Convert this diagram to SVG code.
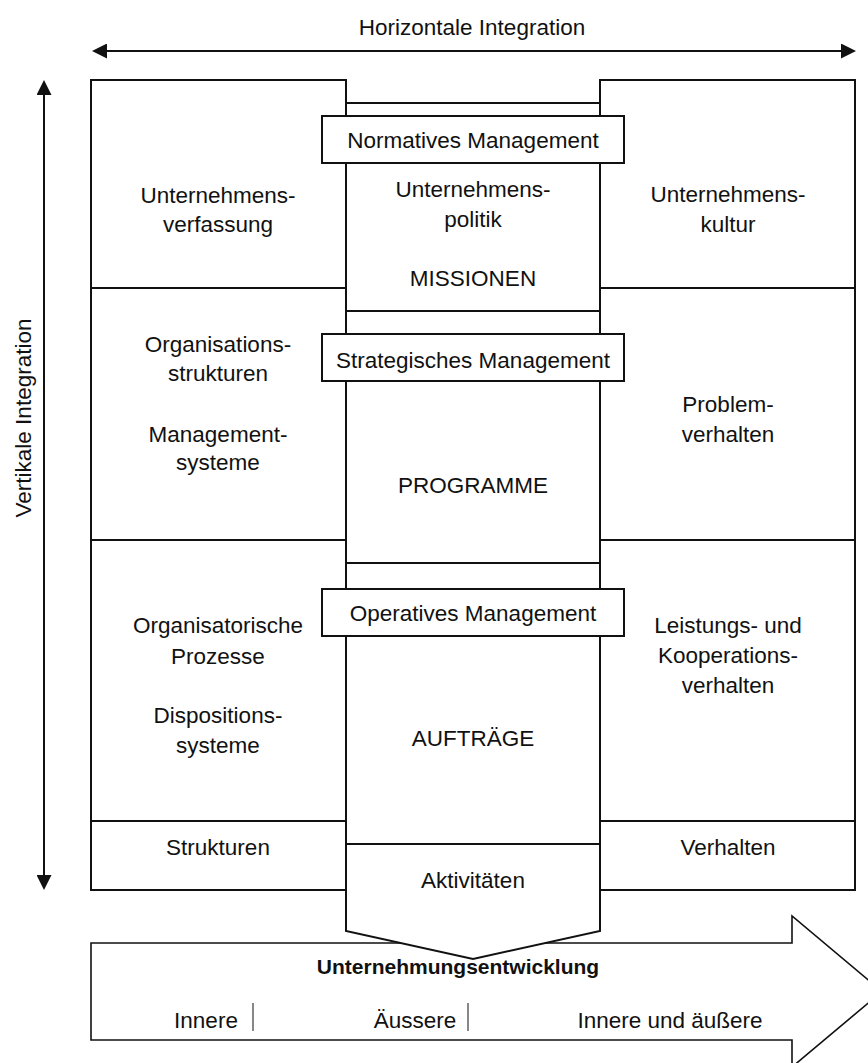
<svg xmlns="http://www.w3.org/2000/svg" width="868" height="1063" viewBox="0 0 868 1063">
<style>
  .box{fill:#fff;stroke:#111;stroke-width:2}
  .ln{fill:none;stroke:#111;stroke-width:2}
  .thin{fill:none;stroke:#111;stroke-width:1}
  text{font-family:"Liberation Sans",Arial,sans-serif;font-size:22.5px;fill:#111;text-anchor:middle}
  .bold{font-weight:bold;font-size:21px}
</style>
<defs>
  <marker id="ah" viewBox="0 0 15 15" refX="5" refY="7.5" markerWidth="15" markerHeight="15" markerUnits="userSpaceOnUse" orient="auto-start-reverse">
    <path d="M0,0 L15,7.5 L0,15 z" fill="#111"/>
  </marker>
</defs>
<rect width="868" height="1063" fill="#fff"/>

<g id="connectors">
  <line class="ln" x1="102" y1="51" x2="846" y2="51" marker-start="url(#ah)" marker-end="url(#ah)"/>
  <line class="ln" x1="44" y1="90" x2="44" y2="880" marker-start="url(#ah)" marker-end="url(#ah)"/>
</g>
<text x="472" y="35">Horizontale Integration</text>
<text transform="translate(31,418) rotate(-90)">Vertikale Integration</text>

<g id="entwicklung">
  <path class="ln" style="stroke-width:1.6" d="M91,943 L792,943 L792,916 L882,991.5 L792,1067 L792,1040 L91,1040 Z"/>
</g>

<g id="left-column">
  <rect class="box" x="91" y="80" width="255" height="810"/>
  <line class="ln" x1="91" y1="288" x2="346" y2="288"/>
  <line class="ln" x1="91" y1="540" x2="346" y2="540"/>
  <line class="ln" x1="91" y1="821" x2="346" y2="821"/>
  <text x="218" y="203">Unternehmens-</text>
  <text x="218" y="232">verfassung</text>
  <text x="218" y="352">Organisations-</text>
  <text x="218" y="381">strukturen</text>
  <text x="218" y="442">Management-</text>
  <text x="218" y="470">systeme</text>
  <text x="218" y="633">Organisatorische</text>
  <text x="218" y="664">Prozesse</text>
  <text x="218" y="723">Dispositions-</text>
  <text x="218" y="753">systeme</text>
  <text x="218" y="855">Strukturen</text>
</g>

<g id="right-column">
  <rect class="box" x="600" y="80" width="255" height="810"/>
  <line class="ln" x1="600" y1="288" x2="855" y2="288"/>
  <line class="ln" x1="600" y1="540" x2="855" y2="540"/>
  <line class="ln" x1="600" y1="821" x2="855" y2="821"/>
  <text x="728" y="202">Unternehmens-</text>
  <text x="728" y="232">kultur</text>
  <text x="728" y="412">Problem-</text>
  <text x="728" y="442">verhalten</text>
  <text x="728" y="633">Leistungs- und</text>
  <text x="728" y="663">Kooperations-</text>
  <text x="728" y="693">verhalten</text>
  <text x="728" y="855">Verhalten</text>
</g>

<g id="middle-column">
  <path class="box" d="M346,103 L600,103 L600,931 L473,959 L346,931 Z"/>
  <line class="ln" x1="346" y1="311" x2="600" y2="311"/>
  <line class="ln" x1="346" y1="563" x2="600" y2="563"/>
  <line class="ln" x1="346" y1="844" x2="600" y2="844"/>
  <text x="473" y="197">Unternehmens-</text>
  <text x="473" y="227">politik</text>
  <text x="473" y="286">MISSIONEN</text>
  <text x="473" y="493">PROGRAMME</text>
  <text x="473" y="746">AUFTRÄGE</text>
  <text x="473" y="888">Aktivitäten</text>
</g>

<g id="normatives">
  <rect class="box" x="322" y="116" width="302" height="47"/>
  <text x="473" y="148">Normatives Management</text>
</g>
<g id="strategisches">
  <rect class="box" x="322" y="334" width="302" height="47"/>
  <text x="473" y="368">Strategisches Management</text>
</g>
<g id="operatives">
  <rect class="box" x="322" y="589" width="302" height="47"/>
  <text x="473" y="621">Operatives Management</text>
</g>

<g id="entwicklung-labels">
  <text class="bold" x="458" y="974">Unternehmungsentwicklung</text>
  <text x="206" y="1028">Innere</text>
  <line class="thin" x1="253" y1="1003" x2="253" y2="1031"/>
  <text x="415" y="1028">Äussere</text>
  <line class="thin" x1="468" y1="1003" x2="468" y2="1031"/>
  <text x="670" y="1028">Innere und äußere</text>
</g>
</svg>
